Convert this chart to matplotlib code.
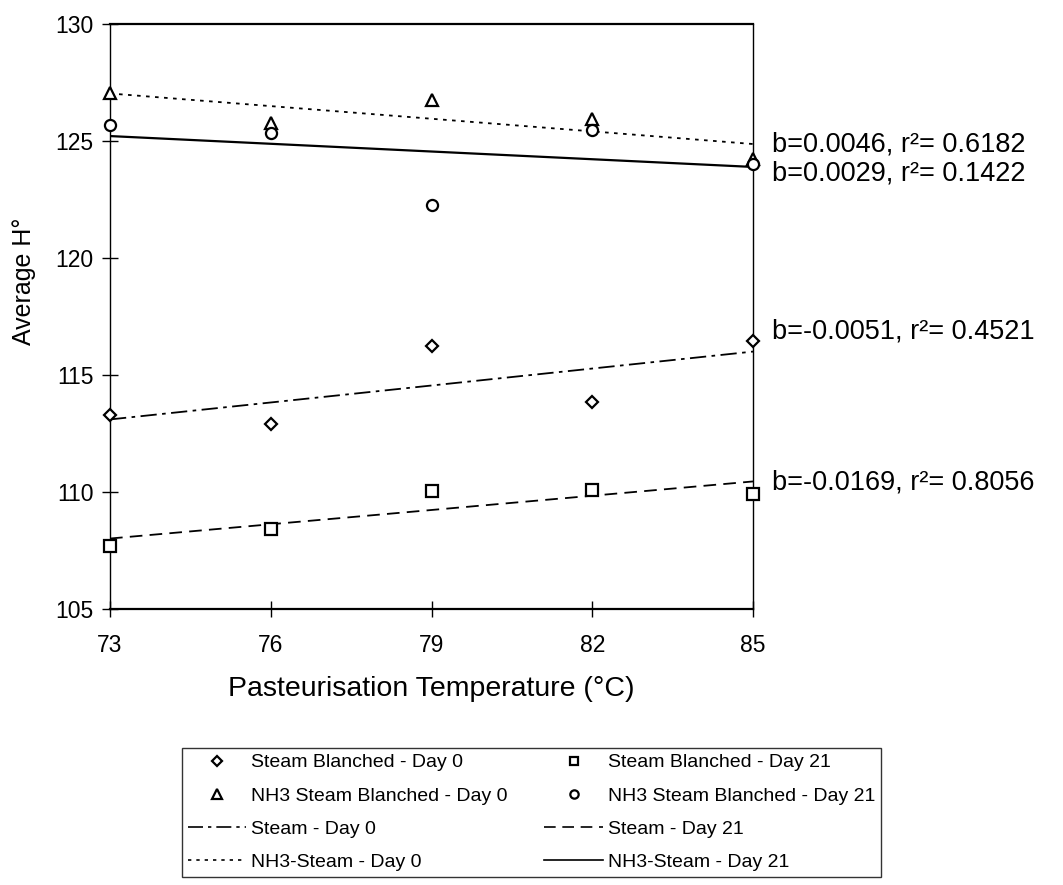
import numpy as np
import matplotlib as mpl
import matplotlib.pyplot as plt
from matplotlib.lines import Line2D
from matplotlib import transforms

# pasteurisation temperatures
temps = [73, 76, 79, 82, 85]

# average H values
steam_day0 = [113.3, 112.9, 116.25, 113.85, 116.45]
steam_day21 = [107.7, 108.4, 110.05, 110.1, 109.9]
nh3_day0 = [127.05, 125.75, 126.75, 125.95, 124.25]
nh3_day21 = [125.7, 125.35, 122.25, 125.45, 124.0]

# regression notes shown at the right of the plot, and their heights
fit_labels = ['b=0.0046, r²= 0.6182', 'b=0.0029, r²= 0.1422',
              'b=-0.0051, r²= 0.4521', 'b=-0.0169, r²= 0.8056']
fit_label_y = [124.85, 123.6, 116.85, 110.4]

yticks = [105, 110, 115, 120, 125, 130]

mpl.rcParams['font.family'] = ['Liberation Sans', 'DejaVu Sans']

fig = plt.figure(figsize=(10.63, 8.85), dpi=100)
ax = fig.add_axes([0.1035, 0.3119, 0.6049, 0.661])

x = np.array(temps, dtype=float)

def trend(y):
    #least squares line through the points
    p = np.polyfit(x, np.array(y), 1)
    return np.polyval(p, x)

mk = dict(linestyle='none', mfc='white', mec='black', mew=1.6, clip_on=False, zorder=4)
ax.plot(x, steam_day0, marker='D', ms=6.5, **mk)
ax.plot(x, steam_day21, marker='s', ms=8, **mk)
ax.plot(x, nh3_day0, marker='^', ms=8, **mk)
ax.plot(x, nh3_day21, marker='o', ms=8, **mk)

ls_s0 = (0, (9, 3, 2, 3))
ls_s21 = (0, (7, 4))
ls_n0 = (0, (2, 3))
ax.plot(x, trend(steam_day0), color='black', lw=1.3, linestyle=ls_s0)
ax.plot(x, trend(steam_day21), color='black', lw=1.3, linestyle=ls_s21)
ax.plot(x, trend(nh3_day0), color='black', lw=1.3, linestyle=ls_n0)
ax.plot(x, trend(nh3_day21), color='black', lw=1.6, linestyle='-')

ax.set_xlim(73, 85)
ax.set_ylim(105, 130)
ax.set_xticks(temps)
ax.set_yticks(yticks)
ax.tick_params(axis='both', direction='inout', length=12, width=1, labelsize=16.5)
ax.tick_params(axis='x', pad=12)
ax.tick_params(axis='y', pad=6)

for s in ['top', 'bottom']:
    ax.spines[s].set_linewidth(1.6)
for s in ['left', 'right']:
    ax.spines[s].set_linewidth(1.0)
    ax.spines[s].set_linestyle((0, (2, 1)))

ax.set_xlabel('Pasteurisation Temperature (°C)', fontsize=20.5, labelpad=14)
ax.set_ylabel('Average H°', fontsize=18)
ax.yaxis.set_label_coords(-0.115, 0.56)

tr = transforms.blended_transform_factory(ax.transAxes, ax.transData)
for lab, yy in zip(fit_labels, fit_label_y):
    ax.text(1.03, yy, lab, transform=tr, fontsize=19.5, va='center', ha='left')

# legend, two columns
handles = [
    Line2D([], [], marker='D', ms=5, **mk),
    Line2D([], [], marker='^', ms=6.5, **mk),
    Line2D([], [], color='black', lw=1.2, linestyle=ls_s0),
    Line2D([], [], color='black', lw=1.2, linestyle=ls_n0),
    Line2D([], [], marker='s', ms=6, **mk),
    Line2D([], [], marker='o', ms=6, **mk),
    Line2D([], [], color='black', lw=1.2, linestyle=ls_s21),
    Line2D([], [], color='black', lw=1.2, linestyle='-'),
]
labels = ['Steam Blanched - Day 0', 'NH3 Steam Blanched - Day 0',
          'Steam - Day 0', 'NH3-Steam - Day 0',
          'Steam Blanched - Day 21', 'NH3 Steam Blanched - Day 21',
          'Steam - Day 21', 'NH3-Steam - Day 21']
leg = fig.legend(handles, labels, ncol=2, loc='upper left',
                 bbox_to_anchor=(0.1712, 0.1548), fontsize=14,
                 frameon=True, fancybox=False, edgecolor='black',
                 handlelength=3.0, handletextpad=0.25, columnspacing=1.9,
                 labelspacing=0.8, borderpad=0.3, borderaxespad=0)
leg.get_frame().set_linewidth(1.0)

fig.savefig('out.png', dpi=100)
